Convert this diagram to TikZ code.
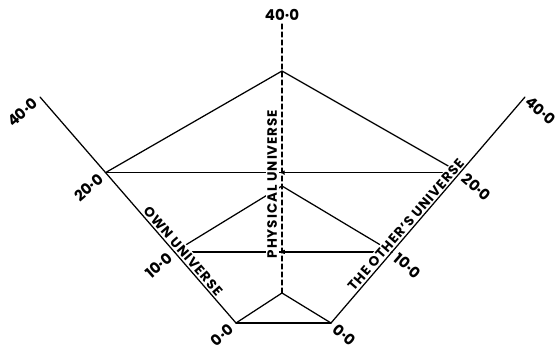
\documentclass[tikz,border=0pt]{standalone}
\usepackage{fontspec}
\setmainfont{Poppins}
\usetikzlibrary{arrows.meta}
\tikzset{
  axislbl/.style={font={\bfseries\fontsize{13.5}{14}\selectfont\addfontfeature{LetterSpace=7}}, fill=white, inner sep=1.6pt},
  numlbl/.style={font={\bfseries\fontsize{15}{15}\selectfont}, inner sep=5.5pt},
  tickarrow/.style={-{To[length=3pt,width=4.5pt]}}
}
\begin{document}
\begin{tikzpicture}[x=1pt, y=-1pt, line width=1.25pt, line cap=round, line join=round]
  \useasboundingbox (0,0) rectangle (558,353);
  % own universe (left)
  \coordinate (l0) at (236,323);
  \coordinate (l10) at (174.4,251.9);
  \coordinate (l20) at (105.6,172.6);
  \coordinate (l40) at (40,97);
  % the other's universe (right)
  \coordinate (r0) at (331,323);
  \coordinate (r10) at (392,251.9);
  \coordinate (r20) at (459.8,172.6);
  \coordinate (r40) at (525,97);
  % physical universe (middle)
  \coordinate (a0) at (282,293);
  \coordinate (a10) at (282,186);
  \coordinate (a20) at (282,71);
  \coordinate (atop) at (282,22);
  \coordinate (h10) at (282,251.9);
  \coordinate (h20) at (282,172.6);

  \draw (l0) -- (r0);
  \draw (l0) -- (a0) -- (r0);
  \draw (l10) -- (a10) -- (r10);
  \draw (l20) -- (a20) -- (r20);
  \draw (l10) -- (h10);
  \draw[tickarrow] (r10) -- (h10);
  \draw (l20) -- (h20);
  \draw[tickarrow] (r20) -- (h20);

  \node[axislbl, rotate=-49, anchor=south] (own) at (177.7,255.7) {OWN UNIVERSE};
  \node[axislbl, rotate=49, anchor=south] (other) at (411.2,229.5) {THE OTHER'S UNIVERSE};
  \node[axislbl, rotate=90, anchor=south] (phys) at (279.2,184) {PHYSICAL UNIVERSE};

  \draw (l0) -- (l40);
  \draw (r0) -- (r40);
  \draw[dash pattern=on 5pt off 3pt] (a0) -- (atop);

  \node[numlbl, rotate=41, anchor=east] (n0l) at (l0) {0·0};
  \node[numlbl, rotate=41, anchor=east] (n10l) at (l10) {10·0};
  \node[numlbl, rotate=41, anchor=east] (n20l) at (l20) {20·0};
  \node[numlbl, rotate=41, anchor=east] (n40l) at (l40) {40·0};
  \node[numlbl, rotate=-41, anchor=west] (n0r) at (r0) {0·0};
  \node[numlbl, rotate=-41, anchor=west] (n10r) at (r10) {10·0};
  \node[numlbl, rotate=-41, anchor=west] (n20r) at (r20) {20·0};
  \node[numlbl, rotate=-41, anchor=west, inner sep=3pt] (n40r) at (r40) {40·0};
  \node[numlbl, anchor=south, inner sep=1pt] (n40a) at (atop) {40·0};
\end{tikzpicture}
\end{document}
